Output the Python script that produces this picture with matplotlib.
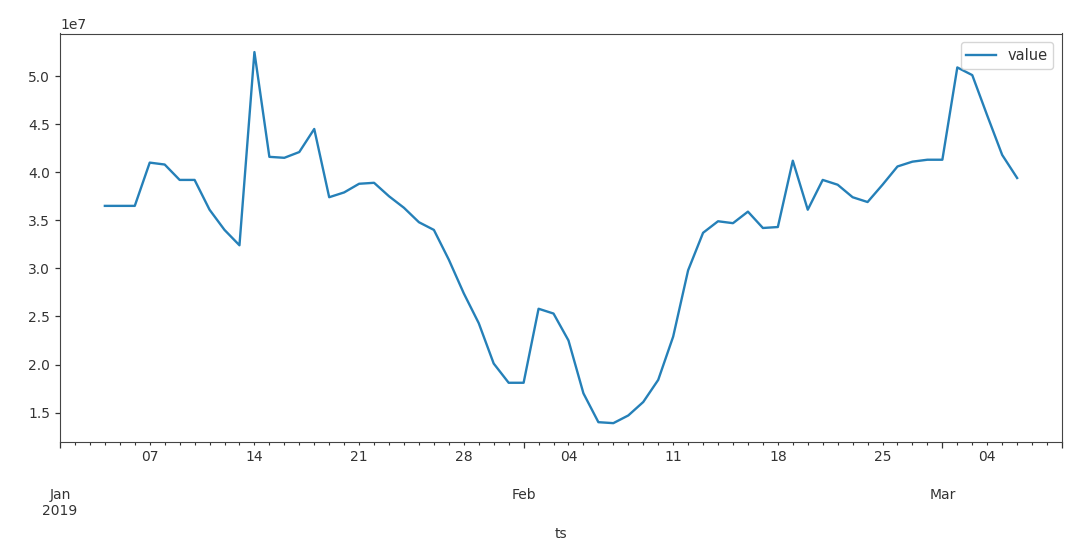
import numpy as np
import pandas as pd
import matplotlib
matplotlib.use("Agg")
import matplotlib.pyplot as plt

# ---- data ----
dates = pd.date_range("2019-01-01", "2019-03-09", freq="D")
nan = np.nan
jan_vals = [nan, nan, nan,
            3.65, 3.65, 3.65, 4.10, 4.08, 3.92, 3.92, 3.61, 3.40, 3.24,
            5.25, 4.16, 4.15, 4.21, 4.45, 3.74, 3.79, 3.88, 3.89, 3.75,
            3.63, 3.48, 3.40, 3.09, 2.74, 2.43, 2.01, 1.81]
feb_vals = [1.81, 2.58, 2.53, 2.25, 1.70, 1.40, 1.39, 1.47, 1.61, 1.84,
            2.29, 2.98, 3.37, 3.49, 3.47, 3.59, 3.42, 3.43, 4.12, 3.61,
            3.92, 3.87, 3.74, 3.69, 3.87, 4.06, 4.11, 4.13]
mar_vals = [4.13, 5.09, 5.01, 4.59, 4.18, 3.94, nan, nan, nan]
values = np.array(jan_vals + feb_vals + mar_vals) * 1e7

series_name = "value"
x_label = "ts"
major_dates = pd.to_datetime(["2019-01-01", "2019-02-01", "2019-03-01", "2019-03-09"])
major_labels = ["\n\nJan\n2019", "\n\nFeb", "\n\nMar", ""]

# ---- plot ----
txt = "#333333"
plt.rcParams.update({
    "font.family": "DejaVu Sans",
    "font.size": 10,
    "text.color": txt,
    "axes.labelcolor": txt,
    "xtick.color": txt,
    "ytick.color": txt,
    "axes.edgecolor": "#444444",
})

fig = plt.figure(figsize=(10.8, 5.52), dpi=100)
ax = fig.add_axes([60/1080, 1 - 441.7/552, (1062 - 60)/1080, (441.7 - 33.5)/552])

ax.plot(dates, values, color="#2580b8", lw=1.7, label=series_name)
ax.set_xlim(dates[0], dates[-1])

ax.set_xticks(major_dates, major_labels)
minor_labels = [d.strftime("%d") if d.weekday() == 0 else "" for d in dates]
ax.set_xticks(dates, minor_labels, minor=True)
ax.tick_params(axis="x", which="major", length=4.2, width=0.9, pad=5.5)
ax.tick_params(axis="x", which="minor", length=1.8, width=0.8, pad=4.5)
ax.tick_params(axis="y", which="major", length=3.5, width=0.9)

ax.set_xlabel(x_label, labelpad=7)
ax.legend(loc="upper right", fontsize=10.5, borderaxespad=0.6)

fig.savefig("out.png", dpi=100)
